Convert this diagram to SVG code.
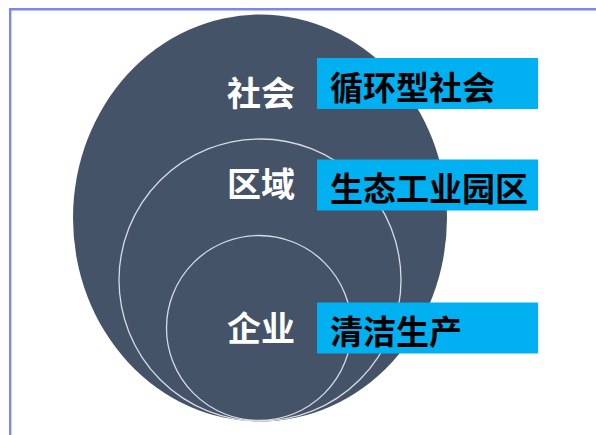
<svg xmlns="http://www.w3.org/2000/svg" width="596" height="435" viewBox="0 0 596 435">
<style>
.frame{fill:none;stroke:#7b86ee;stroke-width:2.4}
.ring{fill:none;stroke:#d8dbe0;stroke-width:1.3}
.box{fill:#00b0f0}
.lbl{font-family:"Noto Sans CJK SC","Noto Sans",sans-serif;font-size:34px;font-weight:bold;fill:#ffffff}
.tag{font-family:"Noto Sans CJK SC","Noto Sans",sans-serif;font-size:33px;font-weight:bold;fill:#000000}
</style>
<rect x="0" y="0" width="596" height="435" fill="#ffffff"/>
<path class="frame" d="M10.2,435 V9.2 H596"/>
<g id="outer">
<ellipse cx="260" cy="218" rx="187" ry="203.5" fill="#455369"/>
</g>
<g id="middle">
<circle class="ring" cx="260" cy="280" r="141"/>
</g>
<g id="inner">
<circle class="ring" cx="259" cy="328" r="92.5"/>
</g>
<g id="society">
<text class="lbl" x="295" y="91" text-anchor="end" dominant-baseline="central">社会</text>
<rect class="box" x="317" y="58" width="221" height="51"/>
<text class="tag" x="330" y="86" dominant-baseline="central">循环型社会</text>
</g>
<g id="region">
<text class="lbl" x="295" y="182.5" text-anchor="end" dominant-baseline="central">区域</text>
<rect class="box" x="317" y="159.5" width="221" height="51"/>
<text class="tag" x="330" y="186.5" dominant-baseline="central">生态工业园区</text>
</g>
<g id="enterprise">
<text class="lbl" x="295" y="326" text-anchor="end" dominant-baseline="central">企业</text>
<rect class="box" x="317" y="302.5" width="221" height="51"/>
<text class="tag" x="330" y="329.5" dominant-baseline="central">清洁生产</text>
</g>
<g id="connectors"></g>
</svg>
